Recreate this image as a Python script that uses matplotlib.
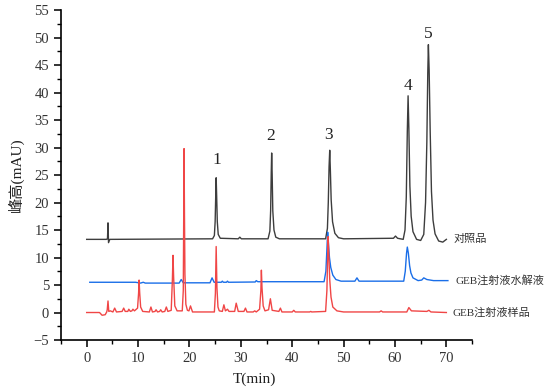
import matplotlib.pyplot as plt
from matplotlib.ticker import MultipleLocator

plt.rcParams['font.family'] = ['Liberation Serif', 'Noto Sans CJK SC']
plt.rcParams['axes.unicode_minus'] = True

# 对照品 (reference standard), time in min, height in mAU
ref_t = [0, 3.8, 4.05, 4.15, 4.25, 4.5,
         24.5, 24.85, 25.0, 25.12, 25.2, 25.3, 25.42, 25.6, 26.0,
         29.5, 29.8, 30.1,
         35.3, 35.65, 35.8, 35.92, 36.0, 36.1, 36.22, 36.45, 36.8, 37.5,
         46.5, 46.85, 47.02, 47.17, 47.3, 47.42, 47.58, 47.85, 48.3, 49.0, 50.0,
         59.7, 60.1, 60.5,
         61.6, 61.95, 62.2, 62.4, 62.55, 62.7, 62.9, 63.15, 63.5, 64.2, 65.0,
         65.6, 65.95, 66.2, 66.38, 66.5, 66.65, 66.85, 67.1, 67.4, 67.8, 68.5, 69.3, 70.0]
ref_y = [13.3, 13.3, 13.4, 16.3, 12.7, 13.3,
         13.4, 14.0, 16.5, 21.5, 24.5, 21.0, 16.5, 14.2, 13.5,
         13.4, 13.7, 13.4,
         13.4, 14.8, 18.5, 25.5, 29.0, 25.0, 18.5, 15.0, 13.7, 13.4,
         13.4, 15.3, 20.0, 26.5, 29.5, 26.0, 20.5, 16.5, 14.4, 13.6, 13.4,
         13.5, 13.9, 13.5,
         13.3, 15.0, 21.0, 33.0, 39.4, 33.5, 23.0, 17.5, 14.7, 13.3, 13.1,
         14.2, 20.0, 31.0, 43.5, 48.7, 44.0, 33.0, 22.0, 16.8, 14.3, 13.0, 12.8, 13.3]

# GEB注射液水解液 (hydrolysate)
hyd_t = [0.6, 9.5, 10.5, 11.0, 11.4, 18.0, 18.4, 18.8, 24.0, 24.4, 24.8, 26.2, 26.4, 26.6,
         27.2, 27.4, 27.6, 32.8, 33.0, 33.3, 46.2, 46.55, 46.75, 46.9, 47.05, 47.25, 47.5,
         47.9, 48.5, 49.5, 52.2, 52.6, 53.0, 61.7, 62.0, 62.25, 62.4, 62.6, 62.85, 63.1,
         63.5, 64.5, 65.2, 65.6, 66.2, 67.5, 70.3]
hyd_y = [5.5, 5.5, 5.35, 5.5, 5.35, 5.35, 6.0, 5.4, 5.4, 6.3, 5.5, 5.5, 5.7, 5.5,
         5.5, 5.7, 5.5, 5.55, 5.8, 5.6, 5.6, 7.5, 11.5, 14.6, 12.5, 10.0, 8.2,
         6.8, 6.0, 5.7, 5.7, 6.3, 5.7, 5.7, 7.5, 10.8, 11.9, 10.8, 8.5, 7.2,
         6.3, 5.8, 5.9, 6.3, 6.0, 5.8, 5.8]

# GEB注射液样品 (sample)
smp_t = [0, 2.5, 3.0, 3.6, 3.9, 4.0, 4.15, 4.3, 4.6, 5.1, 5.45, 5.8, 6.9, 7.2, 7.5, 8.0,
         8.2, 8.5, 8.8, 9.0, 9.3, 9.9, 10.1, 10.2, 10.32, 10.5, 10.9, 12.2, 12.5, 12.8,
         13.3, 13.5, 13.8, 14.2, 14.4, 14.7, 15.2, 15.5, 15.8, 16.45, 16.68, 16.8, 16.92,
         17.15, 17.6, 18.6, 18.8, 18.88, 18.95, 19.03, 19.12, 19.3, 19.6, 19.9, 20.2, 20.6,
         24.85, 25.05, 25.2, 25.35, 25.55, 25.8, 26.4, 26.7, 27.0, 27.4, 27.7, 28.8, 29.1,
         29.5, 30.6, 30.9, 31.2, 32.4, 32.7, 33.0, 33.65, 33.9, 34.0, 34.12, 34.35, 34.7,
         35.4, 35.75, 36.1, 37.4, 37.7, 38.0, 40.0, 40.3, 40.6, 43.4, 43.6, 43.8, 46.5,
         46.75, 46.9, 47.0, 47.12, 47.3, 47.55, 47.9, 48.7, 50.0, 57.0, 57.3, 57.6, 62.3,
         62.7, 63.2, 66.2, 66.6, 67.0, 70.0]
smp_y = [0.0, 0.0, -0.5, -0.4, 0.1, 0.5, 2.1, 0.2, 0.3, 0.1, 0.8, 0.1, 0.2, 0.8, 0.2, 0.2,
         0.6, 0.2, 0.3, 0.6, 0.3, 0.8, 3.5, 5.9, 3.5, 1.0, 0.2, 0.1, 1.0, 0.1,
         0.2, 0.5, 0.1, 0.2, 0.5, 0.1, 0.2, 1.0, 0.2, 0.4, 6.0, 10.4, 6.5,
         1.2, 0.3, 0.3, 4.0, 17.0, 29.8, 18.0, 7.0, 1.5, 0.4, 0.3, 1.2, 0.1,
         0.1, 3.5, 12.0, 4.5, 1.0, 0.3, 0.2, 1.4, 0.3, 0.6, 0.2, 0.2, 1.7,
         0.2, 0.2, 0.8, 0.1, 0.1, 0.3, 0.1, 0.6, 4.0, 7.7, 4.5, 1.2, 0.3,
         0.5, 2.5, 0.4, 0.2, 0.8, 0.1, 0.1, 0.4, 0.1, 0.1, 0.2, 0.1, 0.2,
         4.0, 10.5, 13.8, 10.5, 6.0, 2.8, 1.0, 0.3, 0.1, 0.1, 0.3, 0.1, 0.1,
         0.9, 0.3, 0.2, 0.4, 0.1, 0.0]

peak_labels = ['1', '2', '3', '4', '5']
peak_lx = [25.4, 35.8, 47.1, 62.5, 66.4]
peak_ly = [26.2, 30.6, 30.8, 39.7, 49.2]

series_names = ['对照品', 'GEB注射液水解液', 'GEB注射液样品']
name_x = [71.3, 71.7, 71.2]
name_y = [13.3, 5.8, 0.0]

fig = plt.figure(figsize=(5.47, 3.91), dpi=100)
ax = fig.add_axes([0.1115, 0.1304, 0.7515, 0.844])

ax.plot(ref_t, ref_y, color='#3d3d3d', lw=1.0)
ax.plot(hyd_t, hyd_y, color='#1a6ee8', lw=1.0)
ax.plot(smp_t, smp_y, color='#f04646', lw=1.0)

for lab, lx, ly in zip(peak_labels, peak_lx, peak_ly):
    ax.text(lx, ly, lab, fontsize=12.5, ha='center', va='bottom', color='#222222')

for nm, nx, ny in zip(series_names, name_x, name_y):
    ax.text(nx, ny, nm, fontsize=8, ha='left', va='center', color='#333333',
            clip_on=False)

ax.set_xlim(-5, 75)
ax.set_ylim(-5, 55)
ax.xaxis.set_major_locator(MultipleLocator(10))
ax.xaxis.set_minor_locator(MultipleLocator(5))
ax.yaxis.set_major_locator(MultipleLocator(5))
ax.yaxis.set_minor_locator(MultipleLocator(2.5))
ax.set_xticks(range(0, 71, 10))

for s in ['top', 'right']:
    ax.spines[s].set_visible(False)
for s in ['left', 'bottom']:
    ax.spines[s].set_linewidth(1.2)

ax.tick_params(which='major', direction='out', length=5, width=1.2, labelsize=10.5,
               colors='#111111', labelcolor='#333333')
ax.tick_params(which='minor', direction='out', length=3, width=1.0)

ax.set_xlabel('T(min)', fontsize=11, color='#222222')
ax.xaxis.set_label_coords(0.47, -0.1)
ax.set_ylabel('峰高(mAU)', fontsize=11, color='#222222')
ax.yaxis.set_label_coords(-0.09, 0.5)

plt.savefig('out.png', dpi=100)
